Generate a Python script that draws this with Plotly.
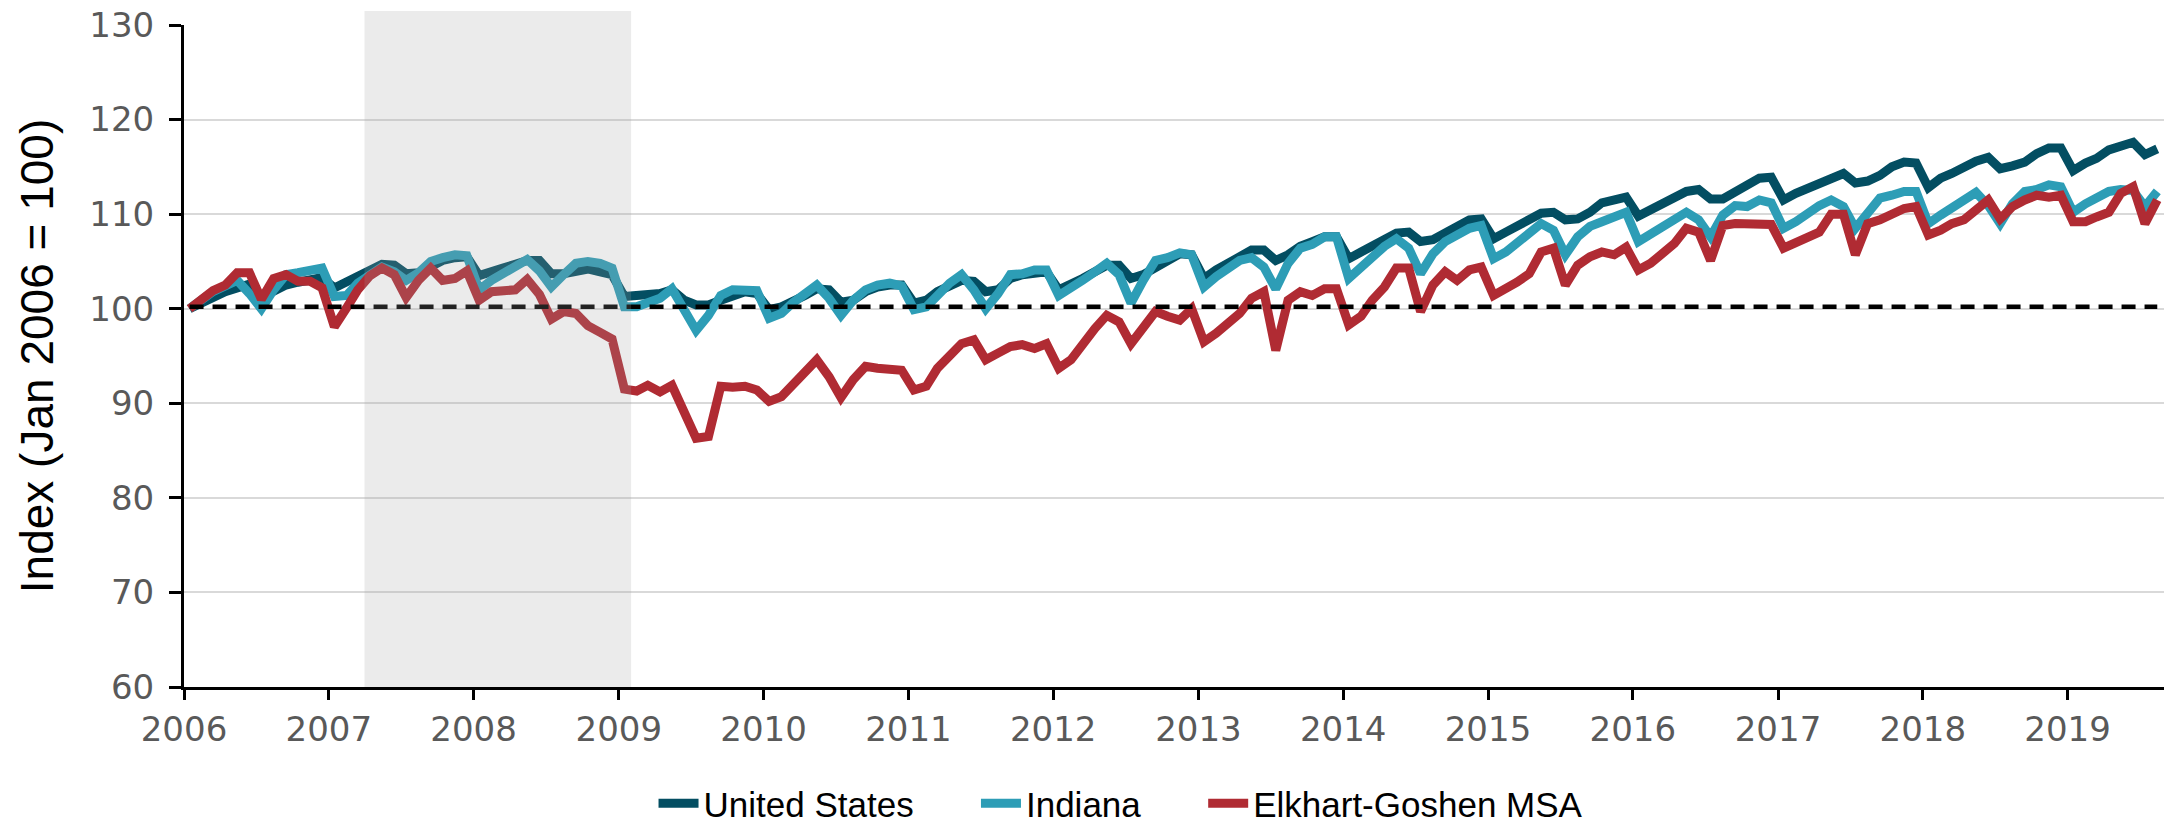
import pandas as pd
import plotly.graph_objects as go

# Monthly employment index, Jan 2006 = 100 (Jan 2006 .. Aug 2019)
months = pd.date_range("2006-01-01", "2019-08-01", freq="MS")
obs_dates = months + pd.Timedelta(days=14)  # plot each month at mid-month

united_states = [
    100.0, 100.7, 101.3, 101.8, 102.2, 102.6, 101.2, 101.8, 102.5, 102.8, 103.1, 103.3,
    102.2, 102.8, 103.5, 104.1, 104.7, 104.6, 103.7, 103.8, 104.6, 105.1, 105.4, 105.5,
    103.5, 104.0, 104.3, 104.7, 105.1, 105.1, 103.7, 103.7, 104.0, 104.2, 103.9, 103.6,
    101.3, 101.4, 101.6, 101.6, 102.0, 100.9, 100.4, 100.4, 100.9, 101.4, 101.8, 101.6,
    99.9, 100.2, 100.7, 101.4, 102.1, 102.0, 100.7, 100.9, 101.8, 102.3, 102.5, 102.5,
    100.6, 100.9, 101.8, 102.5, 103.0, 102.9, 101.8, 102.0, 103.2, 103.6, 103.8, 103.9,
    102.0, 102.5, 103.2, 103.9, 104.6, 104.6, 103.2, 103.6, 104.4, 105.0, 105.8, 105.7,
    103.2, 104.1, 104.8, 105.7, 106.2, 106.2, 105.1, 105.7, 106.6, 107.1, 107.6, 107.6,
    105.3, 106.0, 106.7, 107.4, 108.0, 108.1, 107.1, 107.3, 108.0, 108.8, 109.4, 109.5,
    107.4, 108.1, 108.8, 109.5, 110.1, 110.2, 109.4, 109.5, 110.2, 111.2, 111.6, 111.8,
    109.8, 110.5, 111.2, 111.9, 112.4, 112.6, 111.6, 111.6, 112.4, 113.2, 113.8, 113.9,
    111.5, 112.2, 112.7, 113.3, 113.9, 114.3, 113.3, 113.5, 114.1, 115.0, 115.5, 115.4,
    112.8, 113.8, 114.3, 115.0, 115.6, 116.0, 114.8, 115.1, 115.5, 116.4, 117.0, 117.0,
    114.6, 115.4, 115.9, 116.8, 117.2, 117.6, 116.3, 116.9,
]

indiana = [
    100.0, 100.9, 101.8, 102.4, 103.0, 101.6, 100.0, 102.0, 103.6, 103.8, 104.1, 104.3,
    101.3, 101.4, 102.7, 103.7, 104.4, 103.9, 103.0, 103.8, 105.0, 105.4, 105.7, 105.6,
    102.0, 103.0, 103.7, 104.3, 105.2, 104.0, 102.3, 103.6, 104.8, 105.0, 104.8, 104.3,
    100.2, 100.2, 100.7, 101.1, 102.1, 99.9, 97.7, 99.3, 101.4, 102.0, 102.0, 101.9,
    99.0, 99.5, 100.6, 101.6, 102.5, 101.1, 99.3, 100.9, 102.0, 102.5, 102.7, 102.4,
    99.9, 100.2, 101.4, 102.7, 103.6, 102.0, 100.0, 101.6, 103.6, 103.7, 104.1, 104.1,
    101.4, 102.1, 103.0, 103.9, 104.8, 103.6, 100.6, 103.0, 105.1, 105.4, 105.9, 105.7,
    102.3, 103.4, 104.3, 105.1, 105.4, 104.4, 102.1, 104.8, 106.4, 106.8, 107.6, 107.6,
    103.2, 104.4, 105.5, 106.6, 107.4, 106.4, 103.7, 105.8, 107.1, 107.8, 108.5, 108.8,
    105.3, 106.0, 106.9, 107.9, 109.0, 108.3, 105.7, 107.6, 108.7, 109.2, 109.8, 110.2,
    107.1, 107.9, 108.8, 109.7, 110.2, 109.4, 107.6, 109.9, 110.9, 110.8, 111.5, 111.2,
    108.5, 109.2, 110.1, 110.9, 111.5, 110.8, 108.5, 110.2, 111.7, 112.0, 112.4, 112.4,
    109.0, 109.9, 110.6, 111.3, 112.3, 110.9, 109.0, 111.1, 112.4, 112.6, 113.1, 112.9,
    110.2, 111.1, 111.8, 112.4, 112.6, 112.5, 110.8, 112.4,
]

elkhart_goshen = [
    100.0, 101.0, 101.9, 102.5, 103.8, 103.8, 101.0, 103.2, 103.6, 102.9, 102.9, 102.2,
    98.1, 100.1, 102.0, 103.5, 104.3, 103.6, 101.2, 103.0, 104.3, 103.0, 103.2, 104.0,
    100.9, 101.8, 101.8, 102.0, 103.1, 101.5, 98.9, 99.7, 99.5, 98.2, 97.5, 96.8,
    91.5, 91.3, 91.9, 91.2, 91.9, 89.1, 86.3, 86.5, 91.8, 91.7, 91.8, 91.4,
    90.2, 90.7, 91.9, 93.0, 94.6, 92.8, 90.6, 92.5, 93.9, 93.7, 93.6, 93.5,
    91.4, 91.8, 93.7, 95.1, 96.3, 96.7, 94.6, 95.3, 96.0, 96.2, 95.8, 96.3,
    93.7, 94.6, 96.3, 97.9, 99.3, 98.6, 96.3, 97.9, 99.7, 99.2, 98.8, 100.0,
    96.5, 97.4, 98.3, 99.5, 101.1, 101.8, 95.6, 100.9, 101.8, 101.4, 102.1, 102.1,
    98.3, 99.2, 100.9, 102.3, 104.3, 104.3, 99.7, 102.5, 103.9, 103.0, 104.1, 104.4,
    101.4, 102.0, 102.8, 103.7, 106.0, 106.4, 102.5, 104.6, 105.5, 106.0, 105.7, 106.5,
    104.1, 104.8, 105.8, 106.9, 108.5, 108.1, 105.1, 108.8, 109.0, 109.0, 108.9, 108.9,
    106.4, 106.9, 107.6, 108.1, 110.0, 110.0, 105.7, 109.0, 109.4, 110.1, 110.6, 110.8,
    107.8, 108.3, 109.0, 109.4, 110.4, 111.5, 109.5, 110.8, 111.5, 112.0, 111.8, 112.0,
    109.2, 109.2, 109.7, 110.2, 112.2, 112.9, 109.0, 111.5,
]

base_index = 100.2            # reference level for the dashed line
recession = ("2007-04-01", "2009-02-01")
year_ticks = pd.date_range("2006-01-01", "2019-01-01", freq="YS")
year_labels = [str(d.year) for d in year_ticks]

series_names = ["United States", "Indiana", "Elkhart-Goshen MSA"]
series_values = [united_states, indiana, elkhart_goshen]
series_colors = ["#034e62", "#2d9db6", "#b02b33"]
legend_ids = ["legend", "legend2", "legend3"]
legend_x = [0.302, 0.451, 0.556]   # left edge of each legend entry (container fraction)

fig = go.Figure()
for name, values, color, lg in zip(series_names, series_values, series_colors, legend_ids):
    fig.add_trace(go.Scatter(
        x=obs_dates, y=values, name=name, mode="lines", legend=lg,
        line=dict(color=color, width=9),
    ))

fig.add_trace(go.Scatter(
    x=[obs_dates[0], obs_dates[-1]], y=[base_index, base_index],
    mode="lines", showlegend=False, hoverinfo="skip",
    line=dict(color="black", width=4.5, dash="14px,9px"),
))

# translucent recession band laid over the lines
fig.add_shape(
    type="rect", xref="x", yref="paper",
    x0=recession[0], x1=recession[1], y0=0, y1=1.021,
    fillcolor="rgba(160,160,160,0.21)", line=dict(width=0), layer="above",
)

tick_font = dict(family="DejaVu Sans", size=34, color="#595959")
legend_style = dict(
    orientation="h", xref="container", xanchor="left",
    yref="container", y=0.026, yanchor="middle",
    font=dict(family="Liberation Sans", size=35, color="black"),
    itemwidth=40, bgcolor="rgba(0,0,0,0)",
)

fig.update_layout(
    width=2164, height=825,
    margin=dict(l=184, r=0, t=25, b=138),
    paper_bgcolor="white", plot_bgcolor="white",
    font=dict(family="Liberation Sans", color="black"),
    showlegend=True,
    legend=dict(legend_style, x=legend_x[0]),
    legend2=dict(legend_style, x=legend_x[1]),
    legend3=dict(legend_style, x=legend_x[2]),
    xaxis=dict(
        range=["2006-01-01", "2019-09-01"],
        tickvals=year_ticks, ticktext=year_labels,
        showgrid=False, zeroline=False,
        showline=True, linecolor="black", linewidth=3,
        ticks="outside", ticklen=10, tickwidth=3, tickcolor="black",
        tickfont=tick_font,
    ),
    yaxis=dict(
        range=[60, 130], dtick=10, tick0=60,
        showgrid=True, gridcolor="#d9d9d9", gridwidth=2,
        zeroline=False,
        showline=True, linecolor="black", linewidth=3,
        ticks="outside", ticklen=12, tickwidth=3, tickcolor="black",
        ticklabelstandoff=8,
        tickfont=tick_font,
        title=dict(text="Index (Jan 2006 = 100)", standoff=22,
                   font=dict(family="Liberation Sans", size=46, color="black")),
    ),
)

fig.write_html("out.html")
